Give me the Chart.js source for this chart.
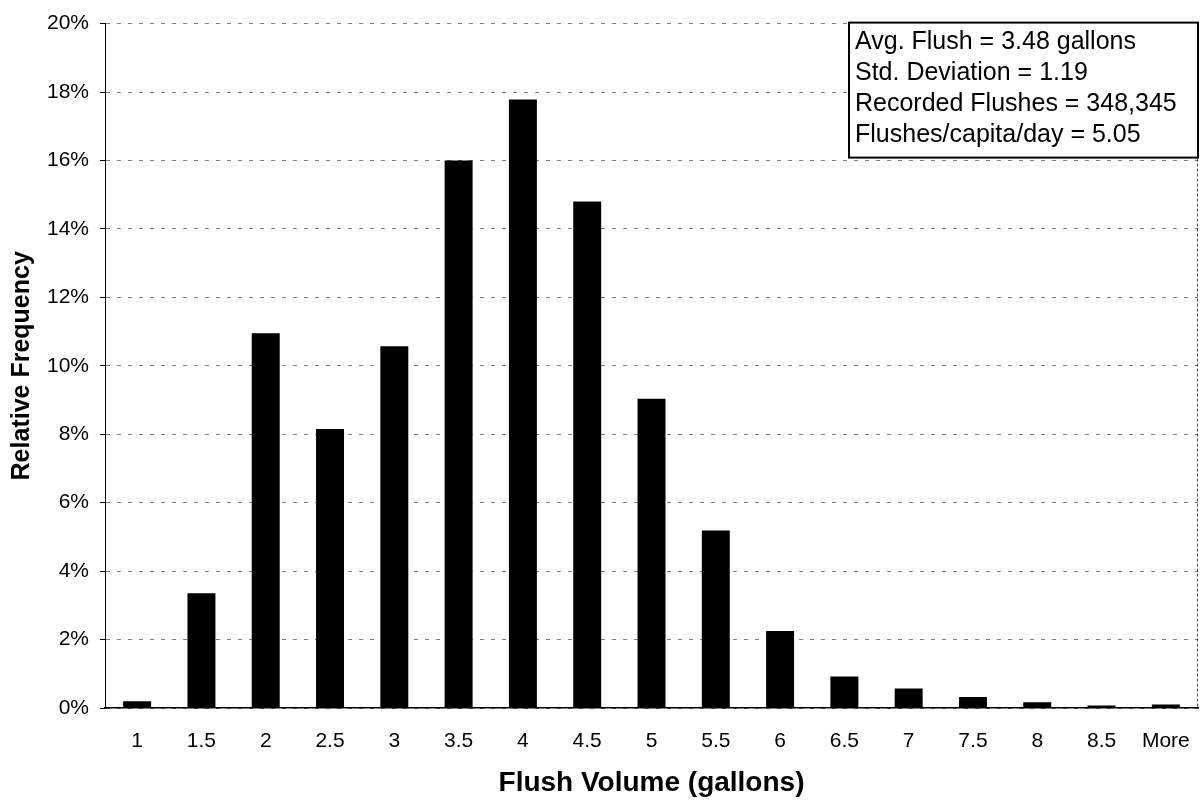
<!DOCTYPE html>
<html>
<head>
<meta charset="utf-8">
<script src="https://cdn.jsdelivr.net/npm/chart.js@4.4.1/dist/chart.umd.min.js"></script>
<style>
    html, body { margin: 0; padding: 0; background: #fff; }
    #wrap { width: 1200px; height: 801px; }
</style>
</head>
<body>
<div id="wrap"><canvas id="flushChart" width="1200" height="801"></canvas></div>
<script>

// flush volume bins (gallons) and share of all recorded flushes (%)
const volumeBins = ['1', '1.5', '2', '2.5', '3', '3.5', '4', '4.5', '5', '5.5', '6', '6.5', '7', '7.5', '8', '8.5', 'More'];
const relativeFrequency = [0.2, 3.35, 10.95, 8.15, 10.57, 16.0, 17.78, 14.8, 9.04, 5.19, 2.25, 0.92, 0.57, 0.32, 0.17, 0.07, 0.1];

const yTicks = { min: 0, max: 20, step: 2 };

const summaryLines = [
    'Avg. Flush = 3.48 gallons',
    'Std. Deviation = 1.19',
    'Recorded Flushes = 348,345',
    'Flushes/capita/day = 5.05'
];

const FONT = '"Liberation Sans", Arial, sans-serif';

// dotted right edge of the plot + the stats box in the top right corner
const extras = {
    id: 'extras',
    afterDatasetsDraw(chart) {
        const { ctx, chartArea } = chart;
        ctx.save();
        ctx.strokeStyle = 'rgba(0,0,0,0.7)';
        ctx.lineWidth = 1;
        ctx.setLineDash([3, 2]);
        ctx.beginPath();
        ctx.moveTo(chartArea.right - 0.5, chartArea.top);
        ctx.lineTo(chartArea.right - 0.5, chartArea.bottom);
        ctx.stroke();
        ctx.setLineDash([]);

        const boxW = 349, boxH = 135;
        const bx = chartArea.right - boxW, by = chartArea.top - 1;
        ctx.fillStyle = '#fff';
        ctx.fillRect(bx, by, boxW, boxH);
        ctx.strokeStyle = '#000';
        ctx.lineWidth = 2;
        ctx.strokeRect(bx, by, boxW, boxH);

        ctx.fillStyle = '#000';
        ctx.font = '25px ' + FONT;
        ctx.textBaseline = 'alphabetic';
        ctx.textAlign = 'left';
        summaryLines.forEach((line, i) => {
            ctx.fillText(line, bx + 6, by + 26 + i * 31);
        });
        ctx.restore();
    }
};

const data = {
    labels: volumeBins,
    datasets: [{
        label: 'Relative Frequency',
        data: relativeFrequency,
        backgroundColor: '#000',
        borderWidth: 0,
        barPercentage: 0.435,
        categoryPercentage: 1
    }]
};

const config = {
    type: 'bar',
    data: data,
    options: {
        responsive: false,
        animation: false,
        layout: {
            padding: { top: 20, right: 2, left: 0, bottom: 0 }
        },
        plugins: {
            legend: { display: false },
            tooltip: { enabled: false }
        },
        scales: {
            x: {
                // invisible grid, only used to push the labels down
                grid: { display: true, color: 'rgba(0,0,0,0)', drawOnChartArea: false, tickLength: 19 },
                border: { display: true, color: '#000', width: 1.5 },
                ticks: {
                    color: '#000',
                    padding: 2,
                    maxRotation: 0,
                    autoSkip: false,
                    font: { family: FONT, size: 21 }
                },
                title: {
                    display: true,
                    text: 'Flush Volume (gallons)',
                    color: '#000',
                    font: { family: FONT, size: 28, weight: 'bold' },
                    padding: { top: 0, bottom: 1 }
                },
                afterFit(scale) { scale.height = 93; }
            },
            y: {
                min: yTicks.min,
                max: yTicks.max,
                grid: {
                    color: 'rgba(0,0,0,0.5)',
                    lineWidth: 1,
                    tickLength: 5,
                    tickColor: '#000',
                    tickBorderDash: []
                },
                border: { display: true, color: '#000', width: 1, dash: [4, 7] },
                ticks: {
                    stepSize: yTicks.step,
                    color: '#000',
                    padding: 11,
                    font: { family: FONT, size: 21 },
                    callback: v => v + '%'
                },
                title: {
                    display: true,
                    text: 'Relative Frequency',
                    color: '#000',
                    font: { family: FONT, size: 25, weight: 'bold' },
                    padding: { top: 7, bottom: 0 }
                },
                afterFit(scale) { scale.width = 105; }
            }
        }
    },
    plugins: [extras]
};

const flushChart = new Chart(document.getElementById('flushChart'), config);
</script>
</body>
</html>
